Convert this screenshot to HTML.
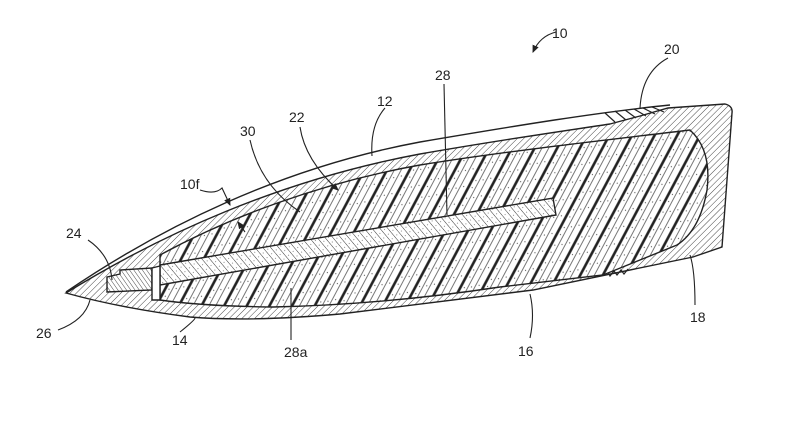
<!DOCTYPE html>
<html><head><meta charset="utf-8"><style>
html,body{margin:0;padding:0;background:#fff;}
svg{display:block;}
text{font-family:"Liberation Sans",sans-serif;font-size:14px;fill:#222;}
</style></head><body>
<svg width="787" height="443" viewBox="0 0 787 443" xmlns="http://www.w3.org/2000/svg">
<defs>
<pattern id="shell" width="4.5" height="4.5" patternUnits="userSpaceOnUse" patternTransform="rotate(45)">
<line x1="0" y1="0" x2="0" y2="4.5" stroke="#333" stroke-width="0.9"/>
</pattern>
<pattern id="core" width="20" height="20" patternUnits="userSpaceOnUse" patternTransform="rotate(28)">
<rect width="20" height="20" fill="#fff"/>
<line x1="1.5" y1="0" x2="1.5" y2="20" stroke="#222" stroke-width="2.6"/>
<line x1="8" y1="0" x2="8" y2="20" stroke="#555" stroke-width="0.8"/>
<line x1="14" y1="0" x2="14" y2="20" stroke="#555" stroke-width="0.8"/>
<circle cx="5" cy="4" r="0.6" fill="#555"/><circle cx="11" cy="12" r="0.6" fill="#555"/><circle cx="17" cy="7" r="0.6" fill="#555"/><circle cx="5" cy="16" r="0.6" fill="#555"/>
</pattern>
<pattern id="rod" width="6" height="6" patternUnits="userSpaceOnUse" patternTransform="rotate(-40)">
<rect width="6" height="6" fill="#fff"/>
<line x1="0" y1="0" x2="0" y2="6" stroke="#333" stroke-width="1"/>
<circle cx="3" cy="3" r="0.5" fill="#666"/>
</pattern>
<pattern id="nib" width="3.5" height="3.5" patternUnits="userSpaceOnUse" patternTransform="rotate(-35)">
<rect width="4" height="4" fill="#fff"/>
<line x1="0" y1="0" x2="0" y2="4" stroke="#333" stroke-width="0.9"/>
</pattern>
<marker id="ah" markerWidth="8" markerHeight="8" refX="6" refY="4" orient="auto"><path d="M0,1 L7,4 L0,7 Z" fill="#222"/></marker>
</defs>
<g stroke="#222" stroke-width="1.4" fill="none">
<path d="M66,293 C160,235 280,180 420,154 C500,140 570,130 610,124 L640,116 L668,108 L725,104 Q733,106 732,113 L722,247 L693,257 L533,290 L340,314 Q250,322 190,317 Q120,308 66,293 Z" fill="url(#shell)"/>
<path d="M66,292 C160,228 280,168 420,142 C520,125 600,112 670,105"/>
<path d="M605,113 L615,122 M615,111 L626,120 M625,110 L636,118 M634,109 L646,116 M643,108 L655,114 M652,107 L664,112" stroke-width="1.2"/>
<path d="M603,275 L608,272 L610,276 L614,271 L617,275 L621,270 L624,274 L628,269" stroke-width="1.2"/>
<path d="M160,300 L160,255 C230,217 320,183 420,165 C500,152 590,142 690,130 Q712,150 707,190 Q700,230 677,245 L603,275 L500,287 Q380,305 273,307 Q200,306 160,300 Z" fill="url(#core)"/>
<path d="M160,265 L553,198 L556,215 L160,285 Z" fill="url(#rod)"/>
<path d="M107,277 L120,274 L120,270 L152,268 L152,290 L107,292 Z" fill="url(#nib)"/>
<path d="M152,268 L160,266 L160,300 L152,300 Z" fill="#fff"/>
</g>
<g stroke="#222" stroke-width="1.1" fill="none">
<path d="M556,32 Q540,36 533,52" marker-end="url(#ah)"/>
<path d="M668,58 Q642,72 640,108"/>
<path d="M385,108 Q370,125 372,156"/>
<path d="M444,84 L447,215"/>
<path d="M300,127 Q305,160 338,190" marker-end="url(#ah)"/>
<path d="M250,140 Q260,185 300,212"/>
<path d="M200,190 Q215,195 222,188 L230,205" marker-end="url(#ah)"/>
<path d="M245,232 L238,222" marker-end="url(#ah)"/>
<path d="M88,240 Q110,255 112,280"/>
<path d="M58,330 Q85,320 90,300"/>
<path d="M180,332 Q195,320 195,318"/>
<path d="M291,340 L291,288"/>
<path d="M530,338 Q535,315 530,294"/>
<path d="M695,305 Q695,270 690,255"/>
</g>
<text x="552" y="38">10</text>
<text x="664" y="54">20</text>
<text x="377" y="106">12</text>
<text x="435" y="80">28</text>
<text x="289" y="122">22</text>
<text x="240" y="136">30</text>
<text x="180" y="189">10f</text>
<text x="66" y="238">24</text>
<text x="36" y="338">26</text>
<text x="172" y="345">14</text>
<text x="284" y="357">28a</text>
<text x="518" y="356">16</text>
<text x="690" y="322">18</text>
</svg>
</body></html>
